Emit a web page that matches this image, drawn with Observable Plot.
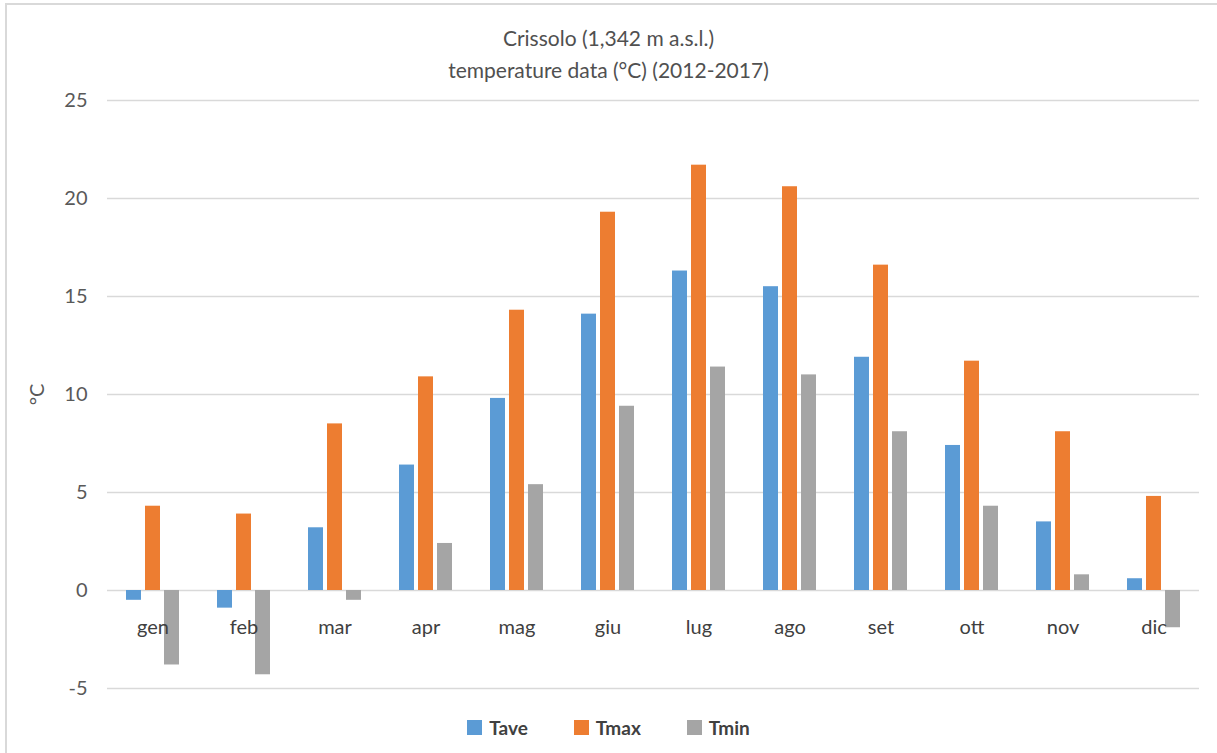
<!DOCTYPE html>
<html><head><meta charset="utf-8">
<script src="https://cdn.jsdelivr.net/npm/d3@7"></script>
<script src="https://cdn.jsdelivr.net/npm/@observablehq/plot@0.6"></script>
<style>
body{margin:0;background:#fff;width:1217px;height:753px;overflow:hidden;position:relative;font-family:Lato,"Open Sans",sans-serif;}
#frame{position:absolute;left:5px;top:3px;width:1240px;height:800px;border-left:2px solid #d9d9d9;border-top:2px solid #d9d9d9;z-index:5;pointer-events:none;}
.title{position:absolute;left:0;width:1217px;text-align:center;font-size:21px;color:#505050;line-height:24px;}
#chart{position:absolute;left:0;top:85px;}
#legend{position:absolute;top:716px;left:0;width:1217px;display:flex;justify-content:center;gap:46px;font-size:19px;font-weight:bold;color:#404040;}
#legend .it{display:flex;align-items:center;}
#legend .sw{width:15px;height:15px;margin-right:7px;}
</style></head>
<body>
<div id="frame"></div>
<div class="title" style="top:26px">Crissolo (1,342 m a.s.l.)</div>
<div class="title" style="top:58px">temperature data (°C) (2012-2017)</div>
<div id="chart"></div>
<div id="legend"></div>
<script>
const months = ["gen","feb","mar","apr","mag","giu","lug","ago","set","ott","nov","dic"];
const series = ["Tave","Tmax","Tmin"];
const tave = [-0.5,-0.9,3.2,6.4,9.8,14.1,16.3,15.5,11.9,7.4,3.5,0.6];
const tmax = [4.3,3.9,8.5,10.9,14.3,19.3,21.7,20.6,16.6,11.7,8.1,4.8];
const tmin = [-3.8,-4.3,-0.5,2.4,5.4,9.4,11.4,11.0,8.1,4.3,0.8,-1.9];
const colors = ["#5B9BD5","#ED7D31","#A5A5A5"];
const yTicks = [-5,0,5,10,15,20,25];

const vals = [tave,tmax,tmin];
const rows = [];
months.forEach((m,i)=>series.forEach((s,j)=>rows.push({month:m,series:s,value:vals[j][i]})));

const chart = Plot.plot({
  width:1217, height:620,
  marginLeft:105, marginRight:16, marginTop:15, marginBottom:17,
  fx:{domain:months, padding:0, axis:null},
  x:{domain:series, paddingInner:0.22, paddingOuter:0.9, axis:null},
  y:{domain:[-5,25]},
  color:{domain:series, range:colors},
  style:{fontFamily:"Lato, 'Open Sans', sans-serif", fontSize:"19px", color:"#595959", overflow:"visible"},
  marks:[
    Plot.gridY(yTicks,{stroke:"#d9d9d9", strokeOpacity:1, strokeWidth:1.5}),
    Plot.axisY(yTicks,{tickSize:0, tickPadding:20, fontSize:20, tickFormat:d=>String(d), label:"°C", labelAnchor:"center", labelOffset:78, labelArrow:"none"}),
    Plot.barY(rows,{fx:"month", x:"series", y:"value", fill:"series"}),
    Plot.text(months,{fx:d=>d, y:()=>0, text:d=>d, dy:37, fill:"#404040", fontSize:20})
  ]
});
document.getElementById("chart").appendChild(chart);

const lg = document.getElementById("legend");
series.forEach((s,i)=>{
  const it = document.createElement("div"); it.className="it";
  const sw = document.createElement("div"); sw.className="sw"; sw.style.background=colors[i];
  const t = document.createElement("span"); t.textContent=s;
  it.appendChild(sw); it.appendChild(t); lg.appendChild(it);
});
</script>
</body></html>
